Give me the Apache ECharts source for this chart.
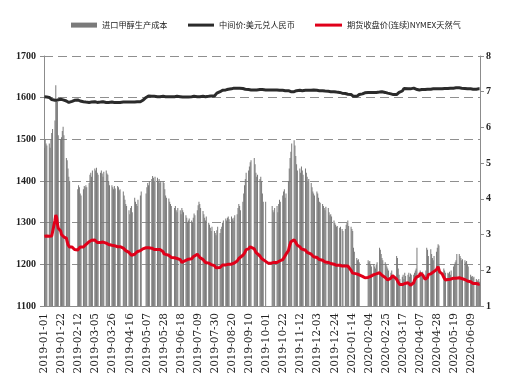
<!DOCTYPE html>
<html>
<head>
<meta charset="utf-8">
<script src="https://cdn.jsdelivr.net/npm/echarts@6/dist/echarts.min.js"></script>
<style>
html,body{margin:0;padding:0;background:#fff;}
#chart{width:511px;height:389px;}
</style>
</head>
<body>
<div id="chart"></div>
<script>
// Series names
const seriesNames = ['进口甲醇生产成本', '中间价:美元兑人民币', '期货收盘价(连续)NYMEX天然气'];
// Calendar range of the category axis (daily), values given for weekdays only
const startDate = '2019-01-01';
const endDate = '2020-06-19';

// 进口甲醇生产成本 (left axis), one row per week Mon-Fri (first row Tue-Fri); null = holiday
const costWeeks = [
 [1480,1500,1490,1485],
 [1490,1480,1500,1515,1525],
 [1545,1630,1595,1590,1510],
 [1500,1505,1520,1530,1510],
 [1455,1450,1430,1410,1400],
 [null,null,null,null,null],
 [1380,1390,1385,1370,1365],
 [1380,1388,1385,1390,1385],
 [1395,1415,1420,1410,1425],
 [1430,1425,1432,1420,1415],
 [1420,1425,1418,1410,1422],
 [1425,1418,1415,1400,1390],
 [1390,1385,1380,1388,1382],
 [1388,1385,1378,1380,null],
 [1375,1365,1355,1345,1340],
 [1330,1320,1335,1340,1325],
 [1360,1350,1345,1340,1355],
 [1365,1375,null,null,null],
 [1370,1385,1395,1390,1400],
 [1405,1412,1408,1400,1410],
 [1408,1400,1405,1395,1400],
 [1400,1395,1380,1365,1360],
 [1358,1350,1345,1340,null],
 [1335,1340,1330,1325,1335],
 [1330,1320,1335,1330,1325],
 [1318,1312,1300,1305,1310],
 [1305,1300,1312,1322,1318],
 [1330,1342,1350,1345,1335],
 [1328,1320,1312,1305,1315],
 [1300,1295,1288,1280,1290],
 [1280,1275,1270,1282,1290],
 [1275,1285,1290,1300,1305],
 [1310,1305,1312,1315,1308],
 [1315,1310,1305,1312,1318],
 [1320,1335,1345,1340,1330],
 [1350,1370,1390,1405,1420],
 [1425,1435,1445,1450,null],
 [1455,1440,1420,1410,1415],
 [1405,1410,1400,1370,1350],
 [1350,null,null,null,null],
 [null,1340,1330,1325,1335],
 [1340,1325,1345,1355,1350],
 [1365,1375,1380,1360,1370],
 [1400,1430,1455,1470,1490],
 [1498,1485,1460,1440,1425],
 [1430,1420,1435,1425,1415],
 [1430,1420,1410,1400,1405],
 [1395,1385,1375,1370,1365],
 [1375,1370,1360,1350,1348],
 [1345,1340,1335,1330,1338],
 [1335,1325,1318,1320,1315],
 [1305,1300,1295,1290,1292],
 [1288,1290,null,1285,1280],
 [1285,1295,1300,1305,1292],
 [1290,1285,1280,1240,1230],
 [1215,1210,1212,1205,null],
 [null,null,null,null,null],
 [1210,1205,1208,1200,1195],
 [1200,1195,1190,1200,1205],
 [1240,1235,1225,1215,1210],
 [1205,1200,1195,1190,1185],
 [1180,1185,1175,1172,1170],
 [1220,1215,1190,1175,1165],
 [1170,1175,1165,1180,1172],
 [1175,1180,1170,1178,1175],
 [1175,1180,1185,1190,1240],
 [null,1185,1180,1178,1182],
 [1175,1185,1240,1235,1220],
 [1236,1225,1215,1210,1220],
 [1230,1240,1248,1245,null],
 [null,null,1190,1185,1180],
 [1180,1178,1182,1175,1185],
 [1195,1200,1205,1210,1225],
 [1225,1220,1215,1210,1212],
 [1210,1205,1208,1200,1195],
 [1175,1170,1172,1168,1170],
 [1165,1162,1160,1165,1158]
];

// 中间价:美元兑人民币 (right axis)
const usdcnyWeeks = [
 [6.86,6.87,6.86,6.85],
 [6.84,6.82,6.80,6.78,6.77],
 [6.76,6.75,6.76,6.77,6.78],
 [6.79,6.78,6.78,6.77,6.76],
 [6.74,6.72,6.71,6.70,6.71],
 [6.73,6.74,6.75,6.76,6.77],
 [6.77,6.76,6.75,6.74,6.73],
 [6.72,6.71,6.70,6.71,6.70],
 [6.70,6.71,6.70,6.71,6.72],
 [6.72,6.71,6.70,6.70,6.71],
 [6.71,6.70,6.71,6.72,6.71],
 [6.70,6.70,6.71,6.70,6.71],
 [6.71,6.72,6.71,6.70,6.70],
 [6.70,6.71,6.71,6.70,6.71],
 [6.71,6.70,6.70,6.71,6.72],
 [6.71,6.70,6.70,6.71,6.71],
 [6.71,6.72,6.71,6.72,6.72],
 [6.72,6.73,6.74,6.76,6.80],
 [6.84,6.86,6.87,6.88,6.87],
 [6.87,6.86,6.87,6.87,6.86],
 [6.86,6.87,6.87,6.86,6.86],
 [6.87,6.86,6.87,6.86,6.87],
 [6.86,6.87,6.86,6.86,6.86],
 [6.86,6.86,6.87,6.87,6.86],
 [6.86,6.85,6.86,6.85,6.85],
 [6.85,6.84,6.84,6.85,6.86],
 [6.86,6.86,6.87,6.87,6.86],
 [6.86,6.86,6.87,6.86,6.87],
 [6.87,6.87,6.86,6.86,6.87],
 [6.87,6.87,6.88,6.88,6.88],
 [6.88,6.90,6.93,6.96,6.98],
 [7.00,7.02,7.03,7.04,7.05],
 [7.05,7.06,7.06,7.07,7.07],
 [7.08,7.08,7.09,7.10,7.10],
 [7.10,7.11,7.10,7.10,7.09],
 [7.09,7.08,7.08,7.07,7.06],
 [7.06,7.06,7.05,7.05,7.05],
 [7.05,7.06,7.06,7.05,7.05],
 [7.06,7.05,7.05,7.06,7.05],
 [7.05,7.05,7.05,7.05,7.05],
 [7.05,7.05,7.06,7.05,7.05],
 [7.05,7.05,7.04,7.04,7.04],
 [7.04,7.04,7.03,7.03,7.03],
 [7.03,7.02,7.01,7.00,7.00],
 [7.00,7.01,7.02,7.03,7.04],
 [7.04,7.04,7.04,7.03,7.04],
 [7.04,7.04,7.03,7.04,7.04],
 [7.04,7.04,7.05,7.05,7.04],
 [7.04,7.04,7.03,7.03,7.03],
 [7.03,7.02,7.02,7.02,7.01],
 [7.01,7.01,7.00,7.00,7.00],
 [7.00,7.00,6.99,6.99,6.98],
 [6.98,6.98,6.97,6.96,6.96],
 [6.95,6.94,6.93,6.93,6.92],
 [6.92,6.90,6.88,6.87,6.86],
 [6.87,6.88,6.90,6.92,6.93],
 [6.94,6.95,6.96,6.97,6.97],
 [6.98,6.98,6.98,6.98,6.97],
 [6.98,6.97,6.98,6.98,6.98],
 [6.99,7.00,7.00,7.00,6.99],
 [6.98,6.98,6.97,6.96,6.95],
 [6.94,6.93,6.93,6.92,6.92],
 [6.92,6.94,6.96,6.98,7.00],
 [7.02,7.06,7.09,7.10,7.09],
 [7.08,7.06,7.07,7.08,7.10],
 [7.10,7.11,7.10,7.07,7.05],
 [7.05,7.05,7.06,7.06,7.06],
 [7.06,7.06,7.07,7.07,7.07],
 [7.07,7.07,7.08,7.08,7.08],
 [7.08,7.08,7.08,7.08,7.08],
 [7.08,7.08,7.09,7.09,7.09],
 [7.09,7.09,7.09,7.10,7.10],
 [7.10,7.10,7.11,7.11,7.11],
 [7.11,7.11,7.10,7.10,7.09],
 [7.09,7.08,7.08,7.08,7.08],
 [7.08,7.08,7.07,7.07,7.07],
 [7.07,7.07,7.08,7.08,7.08]
];

// 期货收盘价(连续)NYMEX天然气 (right axis)
const gasWeeks = [
 [2.95,2.96,2.94,2.96],
 [2.95,2.97,2.98,2.96,3.00],
 [3.40,3.55,3.48,3.30,3.18],
 [3.10,3.00,3.05,2.95,2.93],
 [2.90,2.80,2.72,2.70,2.65],
 [2.65,2.60,2.62,2.58,2.60],
 [2.57,2.60,2.62,2.65,2.63],
 [2.65,2.68,2.70,2.72,2.75],
 [2.80,2.82,2.85,2.84,2.86],
 [2.85,2.82,2.80,2.78,2.79],
 [2.78,2.80,2.77,2.79,2.78],
 [2.76,2.78,2.75,2.72,2.70],
 [2.70,2.68,2.67,2.69,2.66],
 [2.66,2.68,2.65,2.66,2.67],
 [2.62,2.60,2.57,2.55,2.52],
 [2.50,2.48,2.45,2.42,2.40],
 [2.45,2.50,2.48,2.52,2.55],
 [2.55,2.57,2.55,2.60,2.62],
 [2.63,2.62,2.64,2.63,2.62],
 [2.62,2.63,2.60,2.58,2.60],
 [2.58,2.57,2.59,2.58,2.57],
 [2.52,2.46,2.43,2.42,2.44],
 [2.42,2.39,2.38,2.36,2.37],
 [2.35,2.37,2.34,2.33,2.35],
 [2.30,2.25,2.22,2.20,2.24],
 [2.28,2.30,2.29,2.31,2.30],
 [2.32,2.34,2.38,2.40,2.42],
 [2.45,2.43,2.40,2.36,2.32],
 [2.30,2.28,2.25,2.22,2.23],
 [2.20,2.18,2.19,2.16,2.15],
 [2.13,2.10,2.07,2.05,2.06],
 [2.08,2.10,2.12,2.15,2.14],
 [2.15,2.16,2.14,2.17,2.15],
 [2.17,2.16,2.18,2.20,2.22],
 [2.26,2.30,2.33,2.36,2.38],
 [2.42,2.45,2.48,2.52,2.58],
 [2.60,2.63,2.66,2.70,2.68],
 [2.60,2.55,2.50,2.48,2.45],
 [2.40,2.37,2.33,2.30,2.28],
 [2.25,2.23,2.22,2.20,2.21],
 [2.20,2.19,2.20,2.22,2.20],
 [2.22,2.25,2.23,2.26,2.28],
 [2.30,2.34,2.37,2.40,2.45],
 [2.55,2.65,2.72,2.80,2.82],
 [2.85,2.82,2.78,2.75,2.70],
 [2.66,2.64,2.60,2.62,2.58],
 [2.56,2.54,2.50,2.52,2.48],
 [2.45,2.42,2.40,2.38,2.40],
 [2.36,2.34,2.33,2.30,2.28],
 [2.28,2.26,2.25,2.23,2.24],
 [2.22,2.20,2.21,2.19,2.18],
 [2.17,2.15,2.16,2.14,2.15],
 [2.14,2.13,2.14,2.12,2.13],
 [2.12,2.13,2.10,2.12,2.10],
 [2.00,1.95,1.92,1.90,1.88],
 [1.90,1.92,1.88,1.87,1.85],
 [1.83,1.82,1.80,1.79,1.78],
 [1.80,1.82,1.85,1.83,1.86],
 [1.88,1.90,1.88,1.90,1.92],
 [1.93,1.92,1.90,1.86,1.84],
 [1.80,1.77,1.75,1.73,1.75],
 [1.78,1.82,1.85,1.83,1.80],
 [1.75,1.70,1.66,1.62,1.60],
 [1.60,1.62,1.61,1.63,1.60],
 [1.65,1.70,1.62,1.58,1.60],
 [1.65,1.72,1.76,1.80,1.78],
 [1.85,1.92,1.95,1.90,1.87],
 [1.75,1.70,1.72,1.80,1.88],
 [1.90,1.85,1.88,1.95,1.98],
 [2.02,2.05,2.10,2.05,1.95],
 [1.90,1.85,1.80,1.75,1.73],
 [1.74,1.76,1.73,1.75,1.77],
 [1.78,1.76,1.80,1.78,1.77],
 [1.79,1.78,1.76,1.77,1.78],
 [1.74,1.72,1.73,1.70,1.72],
 [1.68,1.66,1.64,1.63,1.62],
 [1.63,1.62,1.60,1.61,1.62]
];

// Build daily category axis and place weekday values onto it
function pad(n){return (n<10?'0':'')+n;}
const dates = [];
const weekdayFlags = [];
{
  const s = new Date(startDate + 'T00:00:00Z');
  const e = new Date(endDate + 'T00:00:00Z');
  for (let t = s.getTime(); t <= e.getTime(); t += 86400000) {
    const d = new Date(t);
    dates.push(d.getUTCFullYear() + '-' + pad(d.getUTCMonth()+1) + '-' + pad(d.getUTCDate()));
    const wd = d.getUTCDay();
    weekdayFlags.push(wd >= 1 && wd <= 5);
  }
}
function spread(weeks){
  const flat = [].concat(...weeks);
  let k = 0;
  return weekdayFlags.map(f => f ? (k < flat.length ? flat[k++] : null) : null);
}
const costData = spread(costWeeks);
const usdcnyData = spread(usdcnyWeeks);
const gasData = spread(gasWeeks);

const serifFont = "'Liberation Serif', 'Times New Roman', serif";
const cjkFont = "'Noto Sans CJK SC', sans-serif";
const legendText = {fontSize: 8.2, color: '#222', fontFamily: cjkFont};
const chart = echarts.init(document.getElementById('chart'), null, {renderer: 'canvas'});
chart.setOption({
  animation: false,
  backgroundColor: '#fff',
  legend: [
    {left: 66, top: 16, itemWidth: 26, itemHeight: 5, icon: 'rect',
     data: [seriesNames[0]], textStyle: legendText},
    {left: 183, top: 16, itemWidth: 26, itemHeight: 3, icon: 'rect',
     data: [seriesNames[1]], textStyle: legendText},
    {left: 310, top: 16, itemWidth: 27, itemHeight: 3, icon: 'rect',
     data: [seriesNames[2]], textStyle: legendText}
  ],
  grid: {left: 44, right: 31, top: 56, bottom: 83, containLabel: false},
  xAxis: {
    type: 'category',
    data: dates,
    boundaryGap: true,
    axisLine: {lineStyle: {color: '#8c8c8c', width: 1}},
    axisTick: {show: false},
    axisLabel: {interval: 20, rotate: 90, margin: 7, fontSize: 10.5, color: '#222', fontFamily: "'DejaVu Serif', serif"},
    splitLine: {show: false}
  },
  yAxis: [
    {type: 'value', min: 1100, max: 1700, interval: 100, position: 'left',
     axisLine: {show: true, lineStyle: {color: '#8c8c8c'}},
     axisTick: {show: true, length: 4, lineStyle: {color: '#8c8c8c'}},
     axisLabel: {fontSize: 10, color: '#222', fontFamily: serifFont, fontWeight: 'bold', margin: 8,
                 formatter: v => String(v)},
     splitLine: {show: true, lineStyle: {color: '#8f8f8f', type: [9, 5], width: 1}}},
    {type: 'value', min: 1, max: 8, interval: 1, position: 'right',
     axisLine: {show: true, lineStyle: {color: '#8c8c8c'}},
     axisTick: {show: true, length: 4, lineStyle: {color: '#8c8c8c'}},
     axisLabel: {fontSize: 10, color: '#222', fontFamily: serifFont, fontWeight: 'bold', margin: 6,
                 formatter: v => String(v)},
     splitLine: {show: false}}
  ],
  series: [
    {name: seriesNames[0], type: 'bar', yAxisIndex: 0, data: costData,
     barCategoryGap: '0%', color: '#7a7a7a', itemStyle: {color: '#7a7a7a'}, z: 1},
    {name: seriesNames[1], type: 'line', yAxisIndex: 1, data: usdcnyData, connectNulls: true,
     showSymbol: false, symbol: 'none', color: '#2b2b2b', lineStyle: {color: '#2b2b2b', width: 3}, z: 3},
    {name: seriesNames[2], type: 'line', yAxisIndex: 1, data: gasData, connectNulls: true,
     showSymbol: false, symbol: 'none', color: '#e0001a', lineStyle: {color: '#e0001a', width: 3}, z: 4}
  ]
});
</script>
</body>
</html>
